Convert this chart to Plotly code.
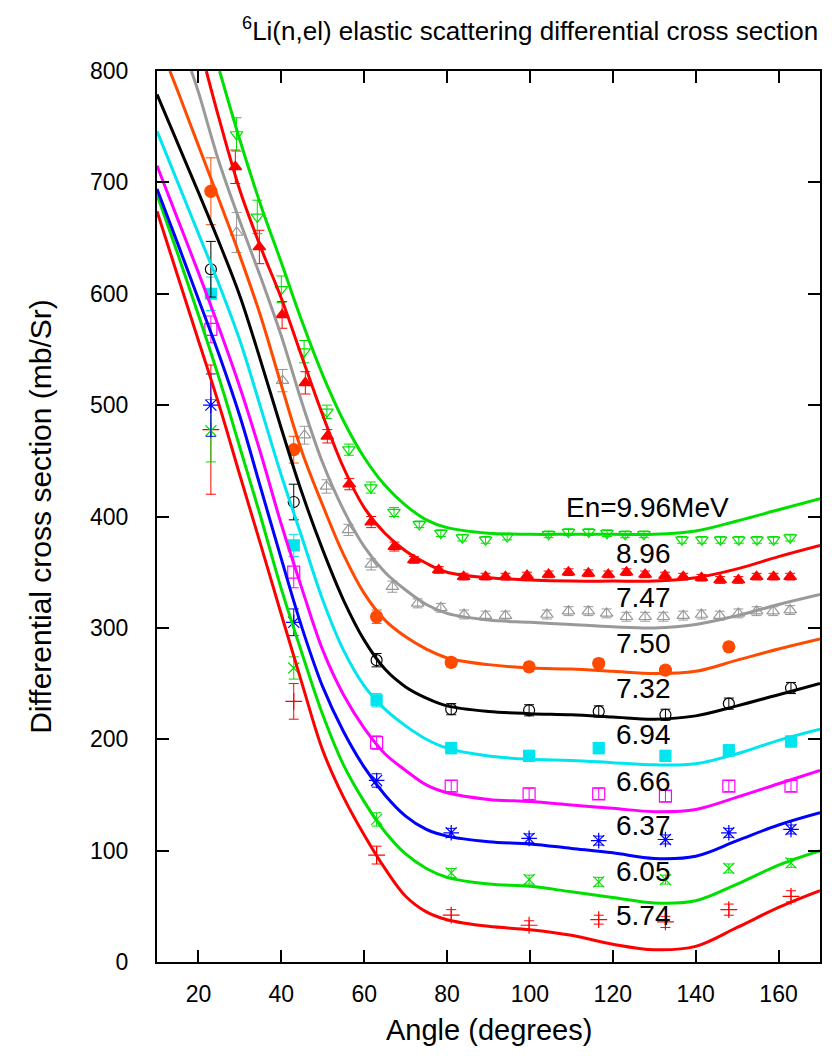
import plotly.graph_objects as go

# ---- model curves (angle in degrees, cross section in mb/sr) ----
grid = [10, 15, 20, 25, 30, 35, 40, 45, 50, 55, 60, 65, 70, 75, 80, 90, 100, 110, 120, 130, 140, 150, 160, 170]

c574_x = grid
c574_y = [674, 616, 558, 500, 437, 375, 312, 250, 190, 148, 114, 84, 59, 45, 38, 32, 29, 24, 16, 11, 14, 31, 49, 64]
c605_x = grid
c605_y = [689, 636, 581, 524, 462, 400, 335, 277, 222, 177, 144, 117, 97, 84, 76, 70, 68, 63, 58, 53, 55, 70, 87, 100]
c637_x = grid
c637_y = [694, 645, 595, 545, 490, 426, 362, 300, 247, 207, 175, 150, 131, 119, 113, 108, 106, 102, 98, 93, 95, 109, 123, 134]
c666_x = grid
c666_y = [715, 667, 619, 569, 516, 457, 393, 335, 280, 240, 210, 187, 172, 159, 152, 146, 144, 141, 138, 135, 137, 148, 160, 172]
c694_x = grid
c694_y = [746, 700, 654, 608, 558, 498, 437, 381, 325, 280, 248, 227, 212, 200, 192, 185, 182, 181, 179, 177, 178, 187, 199, 209]
c732_x = grid
c732_y = [779, 735, 691, 646, 598, 540, 479, 421, 370, 325, 289, 263, 247, 237, 230, 225, 223, 222, 220, 218, 221, 230, 240, 250]
c750_x = [13.1] + grid[1:]
c750_y = [800, 782, 733, 684, 634, 580, 518, 458, 410, 366, 331, 307, 292, 281, 273, 267, 264, 263, 261, 259, 261, 271, 281, 290]
c747_x = [18.3] + grid[2:]
c747_y = [800, 781, 718, 665, 615, 562, 502, 448, 406, 373, 350, 334, 321, 313, 307, 305, 303, 301, 300, 303, 311, 321, 330]
c896_x = [21.9] + grid[3:]
c896_y = [800, 757, 693, 642, 596, 543, 491, 444, 408, 385, 369, 358, 350, 345, 343, 342, 342, 342, 345, 353, 364, 374]
c996_x = [25.1] + grid[4:]
c996_y = [800, 738, 680, 628, 575, 527, 486, 453, 428, 410, 397, 390, 385, 384, 384, 384, 384, 387, 396, 406, 416]

# ---- measured data ----
ang_a = [23, 43, 63, 81, 99.8, 116.6, 132.7, 148, 163]
d574 = [478, 234, 96, 42, 33, 38, 36, 47, 59]
e574 = [58, 16, 8, 5, 4, 4, 5, 5, 5]
d605 = [477, 264, 128, 80, 74, 72, 74, 84, 89]
e605 = [28, 10, 6, 4, 4, 4, 4, 4, 4]
d637 = [500, 305, 163, 116, 111, 109, 110, 116, 119]
e637 = [28, 12, 6, 4, 4, 4, 4, 4, 4]
d666 = [568, 350, 197, 158, 151, 151, 149, 158, 158]
e666 = [12, 14, 6, 5, 5, 5, 5, 5, 5]
d694 = [600, 374, 235, 192, 185, 192, 185, 190, 198]
e694 = [15, 10, 6, 5, 5, 5, 5, 5, 5]
d732 = [622, 413, 271, 227, 226, 225, 222, 232, 246]
e732 = [25, 16, 6, 5, 5, 5, 5, 5, 5]
ang_750 = [23, 43, 63, 81, 99.8, 116.6, 132.7, 148]
d750 = [692, 460, 310, 269, 265, 268, 262, 283]
e750 = [30, 12, 6, 4, 4, 4, 4, 4]

ang_747 = [29.2, 40.3, 45.6, 50.9, 56.2, 61.7, 66.8, 72.9, 78.5, 84.1, 89.3, 94.1, 104.1, 109.3, 114.1,
           118.5, 123.3, 127.8, 132.2, 137.0, 141.4, 145.8, 150.3, 154.7, 158.7, 162.8]
d747 = [655, 522, 473, 427, 388, 357, 337, 322, 318, 312, 311, 311, 312, 315, 315,
        313, 310, 310, 310, 311, 312, 311, 313, 315, 315, 316]
e747 = [18, 10, 8, 6, 5, 5, 5, 4, 4, 4, 4, 4, 4, 4, 4, 4, 4, 4, 4, 4, 4, 4, 4, 4, 4, 4]

ang_896 = [28.9, 34.7, 40.2, 45.8, 51.1, 56.4, 61.7, 67.3, 72.0, 78.0, 84.0, 89.3, 94.1, 99.3, 104.5,
           109.3, 114.1, 118.9, 123.3, 127.8, 132.6, 137.0, 141.4, 145.9, 150.3, 154.7, 158.8, 162.8]
d896 = [714, 642, 581, 520, 472, 429, 395, 373, 361, 352, 346, 346, 346, 347, 348,
        350, 349, 348, 350, 348, 347, 346, 345, 343, 343, 346, 346, 346]
e896 = [15, 15, 12, 10, 6, 5, 5, 4] + [3] * 20

ang_996 = [29.2, 34.2, 40, 45.5, 51, 56.3, 61.6, 67.2, 73.3, 78.5, 83.7, 89.3, 94.5, 104.5, 109.3,
           114.2, 118.6, 123, 127.5, 136.7, 141.5, 146, 150.4, 154.8, 158.8, 162.8]
d996 = [743, 669, 604, 548, 494, 460, 426, 404, 393, 385, 381, 379, 382, 384, 386,
        386, 385, 384, 384, 379, 379, 379, 379, 379, 379, 381]
e996 = [15, 15, 12, 10, 6, 5, 5, 4] + [3] * 18

energies = ["5.74", "6.05", "6.37", "6.66", "6.94", "7.32", "7.50", "7.47", "8.96", "9.96"]
label_y = [42, 81, 123, 162, 204, 246, 286, 327, 367, 408]

RED, GREEN, BLUE, MAG, CYAN = "#ff0000", "#00e000", "#0000ff", "#ff00ff", "#00e5ee"
BLACK, ORANGE, GRAY = "#000000", "#ff4a00", "#999999"

series = [
    (ang_a, d574, e574, c574_x, c574_y, RED, "cross-thin-open", 12),
    (ang_a, d605, e605, c605_x, c605_y, GREEN, "x-thin-open", 11),
    (ang_a, d637, e637, c637_x, c637_y, BLUE, "asterisk-open", 13),
    (ang_a, d666, e666, c666_x, c666_y, MAG, "square-open", 12),
    (ang_a, d694, e694, c694_x, c694_y, CYAN, "square", 11),
    (ang_a, d732, e732, c732_x, c732_y, BLACK, "circle-open", 11),
    (ang_750, d750, e750, c750_x, c750_y, ORANGE, "circle", 12),
    (ang_747, d747, e747, c747_x, c747_y, GRAY, "triangle-up-open", 11),
    (ang_896, d896, e896, c896_x, c896_y, RED, "triangle-up", 11),
    (ang_996, d996, e996, c996_x, c996_y, GREEN, "triangle-down-open", 11),
]

fig = go.Figure()

# measured points with error bars
for ax, dy, ey, cx, cy, col, sym, sz in series:
    fig.add_trace(go.Scatter(
        x=ax, y=dy, mode="markers",
        marker=dict(symbol=sym, size=sz, color=col, line=dict(color=col, width=1.2)),
        error_y=dict(type="data", array=ey, visible=True, color=col, thickness=1, width=5),
        showlegend=False,
    ))

# model curves drawn over the points
for ax, dy, ey, cx, cy, col, sym, sz in series:
    fig.add_trace(go.Scatter(
        x=cx, y=cy, mode="lines",
        line=dict(color=col, width=3, shape="spline", smoothing=1.0),
        showlegend=False,
    ))

TXT = "Liberation Sans, Arial, sans-serif"
for e, yv in zip(energies, label_y):
    if e == "9.96":
        fig.add_annotation(x=108.2, y=yv, xref="x", yref="y", text="En=9.96MeV",
                           showarrow=False, xanchor="left", yanchor="middle",
                           font=dict(family=TXT, size=28, color="black"))
    else:
        fig.add_annotation(x=120.2, y=yv, xref="x", yref="y", text=e,
                           showarrow=False, xanchor="left", yanchor="middle",
                           font=dict(family=TXT, size=28, color="black"))

fig.add_annotation(x=1.0, y=1.047, xref="paper", yref="paper",
                   text="<sup>6</sup>Li(n,el) elastic scattering differential cross section",
                   showarrow=False, xanchor="right", yanchor="middle",
                   font=dict(family=TXT, size=26, color="black"))
fig.add_annotation(x=0.5, y=-0.0763, xref="paper", yref="paper", text="Angle (degrees)",
                   showarrow=False, xanchor="center", yanchor="middle",
                   font=dict(family=TXT, size=29, color="black"))
fig.add_annotation(x=-0.176, y=0.5, xref="paper", yref="paper",
                   text="Differential cross section (mb/Sr)", textangle=-90,
                   showarrow=False, xanchor="center", yanchor="middle",
                   font=dict(family=TXT, size=30, color="black"))

axis_common = dict(showgrid=False, zeroline=False, showline=True, linecolor="black", linewidth=2,
                   mirror="ticks", ticks="inside", ticklen=12, tickwidth=2, tickcolor="black",
                   tickfont=dict(family=TXT, size=23, color="black"))
fig.update_xaxes(range=[10, 170], tickvals=[20, 40, 60, 80, 100, 120, 140, 160],
                 ticklabelstandoff=10, **axis_common)
fig.update_yaxes(range=[0, 800], tickvals=list(range(0, 801, 100)),
                 ticklabelstandoff=22, **axis_common)

fig.update_layout(
    width=833, height=1056,
    margin=dict(l=157, r=11, t=71, b=94),
    paper_bgcolor="white", plot_bgcolor="white",
)

fig.write_html("out.html")
